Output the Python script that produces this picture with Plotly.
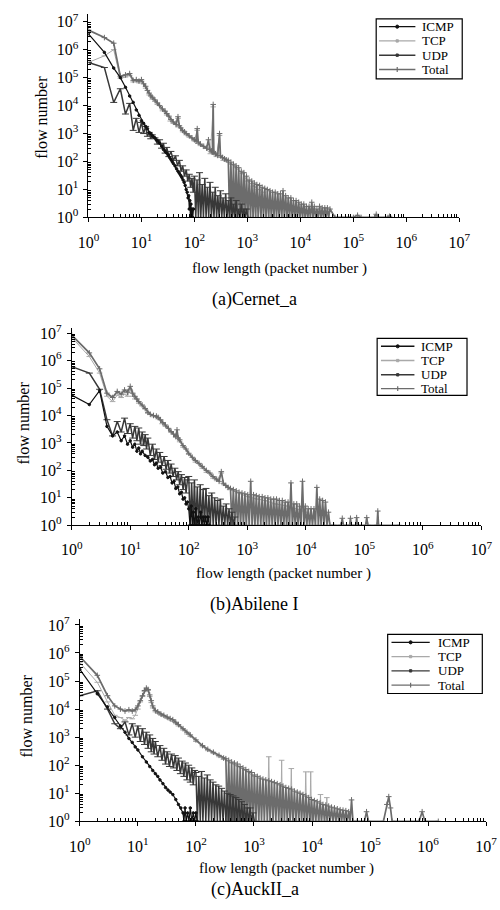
import plotly.graph_objects as go

W, H = 500, 910

# ---------------- tick labels / texts ----------------
decades = [1, 10, 100, 1000, 10000, 100000, 1000000, 10000000]
decade_labels = ["10<sup>0</sup>", "10<sup>1</sup>", "10<sup>2</sup>", "10<sup>3</sup>",
                 "10<sup>4</sup>", "10<sup>5</sup>", "10<sup>6</sup>", "10<sup>7</sup>"]
series_names = ["ICMP", "TCP", "UDP", "Total"]
captions = ["(a)Cernet_a", "(b)Abilene I", "(c)AuckII_a"]
x_title = "flow length (packet number )"
y_title = "flow number"

# ---------------- (a) Cernet_a ----------------
a_icmp_x = [1,2,3,4,5,6,7,8,9,10,11,12,13,14,15,16,17,18,19,20,22,24,26,28,30,32,34,36,38,40,
            43,46,49,52,55,58,61,64,67,70,73,76,78,80,82,84,86,88,90,93,96]
a_icmp_y = [3.7e6,8e5,2.2e5,1e5,4.5e4,2.2e4,1.3e4,7000,4500,2900,
            2300,1800,1500,1100,1000,850,760,700,600,560,
            450,360,270,230,200,170,140,120,100,85,
            70,55,45,38,32,27,22,18,14,10,
            8,5,6,2,4,1,3,1,2,1,2]

a_udp_x = [1,2,3,4,5,6,7,8,9,10,11,12,13,14,15,16,18,20,22,24,26,28,30,33,36,40,44,48,52,56,60,
           65,70,75,80,85,90,95,
           100,106,112,119,125,132,140,148,157,166,176,186,197,209,221,234,247,262,277,293,
           310,328,347,367,389,412,436,461,488,517,546,579,612,648,685,725,768,813,860,910,
           963,1020,1080]
a_udp_y = [3.5e5,2.3e5,1.3e4,4e4,5000,1.2e4,1300,3500,1100,2500,1000,1800,800,1100,650,900,
           700,420,600,300,450,200,320,150,230,110,160,70,110,45,70,
           30,50,20,35,12,25,8,
           30,1,22,1,40,1,15,1,25,1,12,1,18,1,8,1,12,1,6,1,
           9,1,5,1,7,1,4,1,5,1,3,1,4,1,2,1,3,1,2,1,
           2,1,1]

a_tcp_x = [1,2,3,4,5,6,7,8,9,10,12,14,16,18,20,25,30,35,40,49,50,60,70,80,100,
           113,116,130,160,200,226,232,260,298,305,350,400,500,600,800,1000,1300,1600,2000]
a_tcp_y = [3.5e5,6e5,1e6,9.5e4,1.05e5,1.2e5,7e4,7.5e4,6.5e4,7.5e4,4.2e4,2.4e4,1.7e4,1.4e4,1.1e4,
           6500,4600,2800,2300,3500,1750,1150,900,740,540,
           1300,440,370,300,190,9000,180,150,850,140,110,100,80,60,38,20,13,10,8]

a_total_x = [1,2,3,4,5,6,7,8,9,10,11,12,13,14,15,16,18,20,22,25,28,30,33,36,40,45,
             49,52,55,60,65,70,80,90,100,108,113,118,130,150,170,184,195,210,220,226,
             232,250,275,298,310,340,370,400,
             436,461,488,517,546,579,612,648,685,725,
             768,813,860,910,963,1020,1080,1145,1210,1280,
             1350,1430,1510,1600,1700,1800,1900,2010,2130,2250,
             2380,2520,2670,2825,2990,3165,3350,3545,3750,3970,
             4200,4450,4700,4980,5270,5580,5900,6250,6610,7000,
             7400,7840,8290,8780,9290,9830,10400,11000,11600,12300,
             13000,13800,14600,15450,16400,17300,18300,19400,20500,21700,
             23000,24400,25800,27300,28900,30550,32300,34200,36200,
             45000,100000,120000,140000,250000,270000,290000,450000,480000,500000]
a_total_y = [5e6,2.7e6,1.7e6,1.12e5,1.25e5,1.4e5,8e4,8.5e4,7.5e4,8.5e4,6e4,4.9e4,3.5e4,2.8e4,2.2e4,2e4,
             1.6e4,1.25e4,1e4,7600,6300,5200,4200,3200,2600,2100,
             4000,1900,1600,1300,1150,1000,830,700,600,540,1500,500,420,350,300,600,270,240,220,1.1e4,
             210,190,165,1000,160,140,125,115,
             110,1,95,1,80,1,70,1,60,1,
             45,1,40,1,30,1,22,1,20,1,
             17,1,15,1,14,1,12,1,11,1,
             10,1,9,1,8,1,8,1,7,1,
             7,1,9,1,6,1,5,1,5,1,
             4,1,4,1,3.5,1,3,1,3,1,
             2.5,1,2.5,1,3.5,1,2.5,1,2,1,
             2.5,1,2.2,1,2.2,1,2.2,1,2,
             1,1,1.2,1,1,1.3,1,1,1.1,1]

# ---------------- (b) Abilene I ----------------
b_icmp_x = [1,2,3,4,5,6,7,8,9,10,11,12,13,14,15,16,18,20,22,24,26,28,30,33,36,40,44,48,52,56,60,
            65,70,75,80,85,90,95,100,105,110,115,120,126,132,138,145,152,160,168,176,185,194,204,214,225]
b_icmp_y = [5.5e4,2.5e4,8e4,4e3,1.8e3,2.5e3,1.2e3,1.8e3,900,1.2e3,700,900,500,650,400,500,
            350,300,220,250,160,180,120,130,80,90,55,60,35,40,22,
            25,14,16,9,10,6,7,4,1,5,1,3,1,4,1,2,1,3,1,2,1,2,1,2,1]

b_udp_x = [1,2,3,4,5,6,7,8,9,10,11,12,13,14,15,16,17,18,19,20,22,24,26,28,30,32,35,38,41,44,47,50,
           54,58,62,66,70,75,80,85,90,95,
           100,106,112,119,125,132,140,148,157,166,176,186,197,209,221,234,247,262,277,293,
           310,328,347,367,389,412,436,461,488,517,546,579,612]
b_udp_y = [6e5,3.5e5,9e4,7e3,1.8e3,6e3,2.5e3,8e3,2.2e3,5e3,1.5e3,4e3,1.2e3,3.5e3,900,2.5e3,800,2e3,600,1.5e3,
           350,900,250,600,200,450,150,320,110,230,80,170,
           60,120,45,90,30,70,20,55,15,45,
           60,1,35,1,45,1,25,1,30,1,20,1,22,1,12,1,15,1,10,1,
           8,1,9,1,5,1,6,1,4,1,3,1,2]

b_tcp_x = [1,2,3,4,5,6,7,8,9,10,11,12,14,16,18,20,25,30,35,40,50,60,70,80,100,
           130,170,200,260,300,360,400,500,700,1000,1500,2000,3000,5000,10000]
b_tcp_y = [7e6,1.4e6,3.5e5,5e4,3.2e4,5.5e4,4.5e4,6e4,5e4,9e4,5e4,4e4,2.8e4,2.2e4,1.7e4,1.2e4,
           9e3,7.5e3,5e3,4e3,2.4e3,1.6e3,1.1e3,700,380,
           200,120,85,52,42,80,30,20,15,11,9,8,6,5,3]

b_total_x = [1,2,3,4,5,6,7,8,9,10,11,12,13,14,16,18,20,22,25,28,30,33,36,40,
             45,50,55,60,63,66,70,80,90,100,115,130,150,170,200,230,260,300,330,360,390,430,470,
             517,546,579,612,648,685,725,768,813,860,
             910,963,1020,1080,1145,1210,1280,1350,1430,1510,
             1600,1700,1800,1900,2010,2130,2250,2380,2520,2670,
             2825,2990,3165,3350,3545,3750,3970,4200,4450,4700,
             4980,5270,5580,5900,6250,6610,7000,7400,7840,8290,
             8780,9290,9830,10400,11000,11600,12300,13000,13800,14600,
             15450,16400,17300,18300,19400,20500,21700,23000,24400,25800,
             30000,40000,42000,44000,56000,58000,60000,72000,74000,76000,
             105000,110000,115000,165000,170000,175000,400000]
b_total_y = [8.5e6,1.9e6,5e5,6.5e4,4.5e4,7.5e4,6e4,8.5e4,7e4,1.15e5,6.5e4,5e4,4e4,3.2e4,
             2.4e4,1.8e4,1.3e4,1.1e4,1e4,9.5e3,8.5e3,7e3,5.5e3,4.5e3,
             3.4e3,2.6e3,2.1e3,1.7e3,3e3,1.5e3,1.3e3,800,600,420,300,230,180,140,100,80,60,48,40,90,34,28,24,
             22,1,20,1,18,1,16,1,15,1,
             14,1,13,1,40,1,13,1,12,1,
             11,1,11,1,10,1,10,1,9,1,
             9,1,9,1,8,1,8,1,7,1,
             7,1,35,1,6,1,6,1,5,1,
             40,1,5,1,4,1,4,1,4,1,
             24,1,9,1,8,1,7,1,3,1,
             1,1,1.8,1,1,1.8,1,1,1.9,1,
             1,1.9,1,1,3.3,1,1]

# ---------------- (c) AuckII_a ----------------
c_icmp_x = [1,2,3,4,5,6,7,8,9,10,12,14,16,18,20,22,24,27,30,33,36,40,45,50,55,60,62,65,68,72,
            76,80,85,90,95,100,105]
c_icmp_y = [2.6e5,3.5e4,1.2e4,5e3,2.5e3,1.5e3,900,650,450,350,200,130,90,65,50,40,30,22,16,13,
            11,9,6,4,3,2,1,3,1,2,1,3,1,2,1,2,1]

c_udp_x = [1,2,3,4,5,6,7,8,9,10,11,12,13,14,15,16,17,18,19,20,22,24,26,28,30,32,35,38,41,44,47,50,
           54,58,62,66,70,75,80,85,90,95,
           100,106,112,119,125,132,140,148,157,166,176,186,197,209,221,234,247,262,277,293,
           310,328,347,367,389,412,436,461,488,517,546,579,612,648,685,725,768,813,860,910,963,1020]
c_udp_y = [3e4,4.5e4,1e4,3e3,2e3,3.5e3,1.2e3,3e3,1e3,2.5e3,700,2e3,550,1.5e3,400,1.2e3,300,900,250,700,
           200,500,150,400,110,300,90,250,80,220,65,180,
           50,140,40,120,30,100,25,80,20,65,
           55,1,40,1,60,1,35,1,45,1,30,1,25,1,20,1,18,1,15,1,
           12,1,10,1,9,1,8,1,7,1,6,1,5,1,4,1,3,1,3,1,2,1]

c_tcp_x = [1,2,3,4,5,6,7,8,9,10,11,12,13,14,15,16,17,18,20,22,25,28,32,36,40,45,50,60,
           70,80,100,130,160,200,250,300,400,500,
           700,1000,1100,1700,1800,1900,2900,3000,3100,4200,4400,4600,7500,7800,8100,
           9200,9500,9800,13500,14000,14500,17500,18000,18500]
c_tcp_y = [4.5e5,9e4,1.8e4,6e3,5e3,4e3,5e3,4.5e3,6e3,1e4,1.8e4,2.8e4,4.2e4,5e4,4.6e4,2.8e4,1.7e4,1.1e4,
           8e3,7e3,6e3,5.4e3,4.6e3,4.1e3,3.7e3,3e3,2.5e3,1.8e3,
           1.3e3,1.05e3,700,450,330,260,200,160,120,95,
           65,40,1,1,200,1,1,150,1,1,76,1,1,58,1,1,58,1,1,9,1,1,7,1]

c_total_x = [1,2,3,4,5,6,7,8,9,10,11,12,13,14,15,16,17,18,20,22,25,28,32,36,40,45,50,60,
             70,80,100,130,160,200,250,300,
             328,347,367,389,412,436,461,488,517,546,
             579,612,648,685,725,768,813,860,910,963,
             1020,1080,1145,1210,1280,1350,1430,1510,1600,1700,
             1800,1900,2010,2130,2250,2380,2520,2670,2825,2990,
             3165,3350,3545,3750,3970,4200,4450,4700,4980,5270,
             5580,5900,6250,6610,7000,7400,7840,8290,8780,9290,
             9830,10400,11000,11600,12300,13000,13800,14600,15450,16400,
             17300,18300,19400,20500,21700,23000,24400,25800,27300,28900,
             30550,32300,34200,36200,38300,40500,42900,45400,48000,50800,
             60000,80000,87000,94000,170000,195000,210000,225000,240000,700000,790000,880000,1500000]
c_total_y = [7.5e5,1.6e5,3e4,1.3e4,1e4,8.5e3,9.5e3,8.5e3,9.5e3,1.3e4,2e4,3e4,4.6e4,5.6e4,5e4,3.2e4,2e4,1.3e4,
             9e3,8e3,6.6e3,6e3,5.2e3,4.6e3,4.2e3,3.4e3,2.8e3,2e3,
             1.5e3,1.2e3,800,500,370,290,225,180,
             170,1,150,1,130,1,120,1,110,1,
             90,1,80,1,70,1,60,1,55,1,
             45,1,40,1,35,1,32,1,30,1,
             28,1,26,1,24,1,22,1,20,1,
             18,1,16,1,15,1,14,1,12,1,
             11,1,10,1,9,1,8,1,7,1,
             6,1,5.5,1,5,1,4.5,1,4,1,
             3.8,1,3.5,1,3.2,1,3,1,2.8,1,
             2.6,1,2.5,1,2.4,1,2.2,1,5.8,1,
             1,1,2.2,1,1,4,7.6,3,1,1,2.2,1,1]

# ---------------- styling ----------------
styles = {
    "ICMP":  dict(color="#111111", width=1.2, symbol="circle",     msize=2.5),
    "TCP":   dict(color="#a9a9a9", width=1.0, symbol="line-ew",    msize=4),
    "UDP":   dict(color="#383838", width=1.5, symbol="line-ew",    msize=5),
    "Total": dict(color="#6c6c6c", width=1.7, symbol="cross-thin", msize=4),
}
serif = "Liberation Serif"

panels = [
    dict(xa="x", ya="y",
         data={"TCP": (a_tcp_x, a_tcp_y), "Total": (a_total_x, a_total_y),
               "UDP": (a_udp_x, a_udp_y), "ICMP": (a_icmp_x, a_icmp_y)},
         x0=81, x1=469, ybot=215, ytop=8, ytopval=7.28,
         leg_box=(382, 13, 472, 74), leg_rows=(21, 35.5, 50, 64.5), leg_line=(385, 423), leg_tx=429,
         xt=(281, 267, 15), cap=(255, 298), yt=(32, 113)),
    dict(xa="x2", ya="y2",
         data={"TCP": (b_tcp_x, b_tcp_y), "Total": (b_total_x, b_total_y),
               "UDP": (b_udp_x, b_udp_y), "ICMP": (b_icmp_x, b_icmp_y)},
         x0=63.5, x1=492, ybot=528, ytop=327, ytopval=7.2,
         leg_box=(383, 338, 477, 396), leg_rows=(346, 360.5, 375, 389), leg_line=(387, 422), leg_tx=428,
         xt=(285, 577, 15), cap=(254, 609), yt=(13, 424)),
    dict(xa="x3", ya="y3",
         data={"TCP": (c_tcp_x, c_tcp_y), "Total": (c_total_x, c_total_y),
               "UDP": (c_udp_x, c_udp_y), "ICMP": (c_icmp_x, c_icmp_y)},
         x0=72, x1=497, ybot=829, ytop=623, ytopval=7.22,
         leg_box=(394, 639, 493, 699), leg_rows=(647, 661.5, 676, 690.5), leg_line=(398, 438), leg_tx=446,
         xt=(288, 877, 15), cap=(255, 898), yt=(16, 722)),
]

fig = go.Figure()
minor_vals = [m * 10 ** k for k in range(7) for m in range(2, 10)]

def fx(p):
    return p / W

def fy(p):
    return 1 - p / H

annotations = []
shapes = []
layout = {}
for i, p in enumerate(panels):
    for name in ["TCP", "Total", "UDP", "ICMP"]:
        xs, ys = p["data"][name]
        s = styles[name]
        fig.add_trace(go.Scatter(
            x=xs, y=ys, mode="lines+markers", name=name, showlegend=False,
            xaxis=p["xa"], yaxis=p["ya"],
            line=dict(color=s["color"], width=s["width"]),
            marker=dict(symbol=s["symbol"], size=s["msize"], color=s["color"],
                        line=dict(color=s["color"], width=1)),
        ))
    suffix = "" if i == 0 else str(i + 1)
    common = dict(type="log", showline=True, linecolor="black", linewidth=1,
                  ticks="outside", ticklen=4, tickcolor="black", tickwidth=1,
                  tickmode="array", tickvals=decades, ticktext=decade_labels,
                  tickfont=dict(family=serif, size=16, color="black"),
                  showgrid=False, zeroline=False,
                  minor=dict(tickmode="array", tickvals=minor_vals, ticks="inside",
                             ticklen=3, tickcolor="black", tickwidth=1, showgrid=False))
    layout["xaxis" + suffix] = dict(common, range=[0, 7], domain=[fx(p["x0"]), fx(p["x1"])],
                                    anchor="y" + suffix, ticklabelstandoff=6)
    layout["yaxis" + suffix] = dict(common, range=[0, p["ytopval"]],
                                    domain=[fy(p["ybot"]), fy(p["ytop"])],
                                    anchor="x" + suffix, ticklabelstandoff=2)

    # legend box (drawn in page coordinates)
    bx0, by0, bx1, by1 = p["leg_box"]
    shapes.append(dict(type="rect", xref="paper", yref="paper",
                       x0=fx(bx0), x1=fx(bx1), y0=fy(by1), y1=fy(by0),
                       line=dict(color="black", width=1.2), fillcolor="white", layer="above"))
    lx0, lx1 = p["leg_line"]
    lxm = (lx0 + lx1) / 2
    for name, ry in zip(series_names, p["leg_rows"]):
        s = styles[name]
        shapes.append(dict(type="line", xref="paper", yref="paper",
                           x0=fx(lx0), x1=fx(lx1), y0=fy(ry), y1=fy(ry),
                           line=dict(color=s["color"], width=1.4), layer="above"))
        if name == "ICMP":
            shapes.append(dict(type="circle", xref="paper", yref="paper",
                               x0=fx(lxm - 1.6), x1=fx(lxm + 1.6), y0=fy(ry + 1.6), y1=fy(ry - 1.6),
                               line=dict(color=s["color"], width=1), fillcolor=s["color"], layer="above"))
        elif name == "Total":
            shapes.append(dict(type="line", xref="paper", yref="paper",
                               x0=fx(lxm), x1=fx(lxm), y0=fy(ry - 2.5), y1=fy(ry + 2.5),
                               line=dict(color=s["color"], width=1.2), layer="above"))
        else:
            shapes.append(dict(type="rect", xref="paper", yref="paper",
                               x0=fx(lxm - 1.2), x1=fx(lxm + 1.2), y0=fy(ry + 1.2), y1=fy(ry - 1.2),
                               line=dict(color=s["color"], width=1), fillcolor=s["color"], layer="above"))
        annotations.append(dict(x=fx(p["leg_tx"]), y=fy(ry), xref="paper", yref="paper",
                                text=name, showarrow=False, xanchor="left", yanchor="middle",
                                borderpad=0,
                                font=dict(family=serif, size=13, color="black")))

    annotations.append(dict(x=fx(p["xt"][0]), y=fy(p["xt"][1]), xref="paper", yref="paper",
                            text=x_title, showarrow=False, xanchor="center", yanchor="middle",
                            font=dict(family=serif, size=p["xt"][2], color="black")))
    annotations.append(dict(x=fx(p["cap"][0]), y=fy(p["cap"][1]), xref="paper", yref="paper",
                            text=captions[i], showarrow=False, xanchor="center", yanchor="middle",
                            font=dict(family=serif, size=18, color="black")))
    annotations.append(dict(x=fx(p["yt"][0]), y=fy(p["yt"][1]), xref="paper", yref="paper",
                            text=y_title, showarrow=False, xanchor="center", yanchor="middle",
                            textangle=-90, font=dict(family=serif, size=16, color="black")))

fig.update_layout(**layout)
fig.update_layout(width=W, height=H, autosize=False,
                  margin=dict(l=0, r=0, t=0, b=0),
                  paper_bgcolor="white", plot_bgcolor="white",
                  showlegend=False, annotations=annotations, shapes=shapes)

# place the figure at the page's top-left corner (no default body margin), no toolbar
fig.write_html("out.html",
               config={"displayModeBar": False},
               post_script="document.body.style.margin='0px';document.body.style.overflow='hidden';")
